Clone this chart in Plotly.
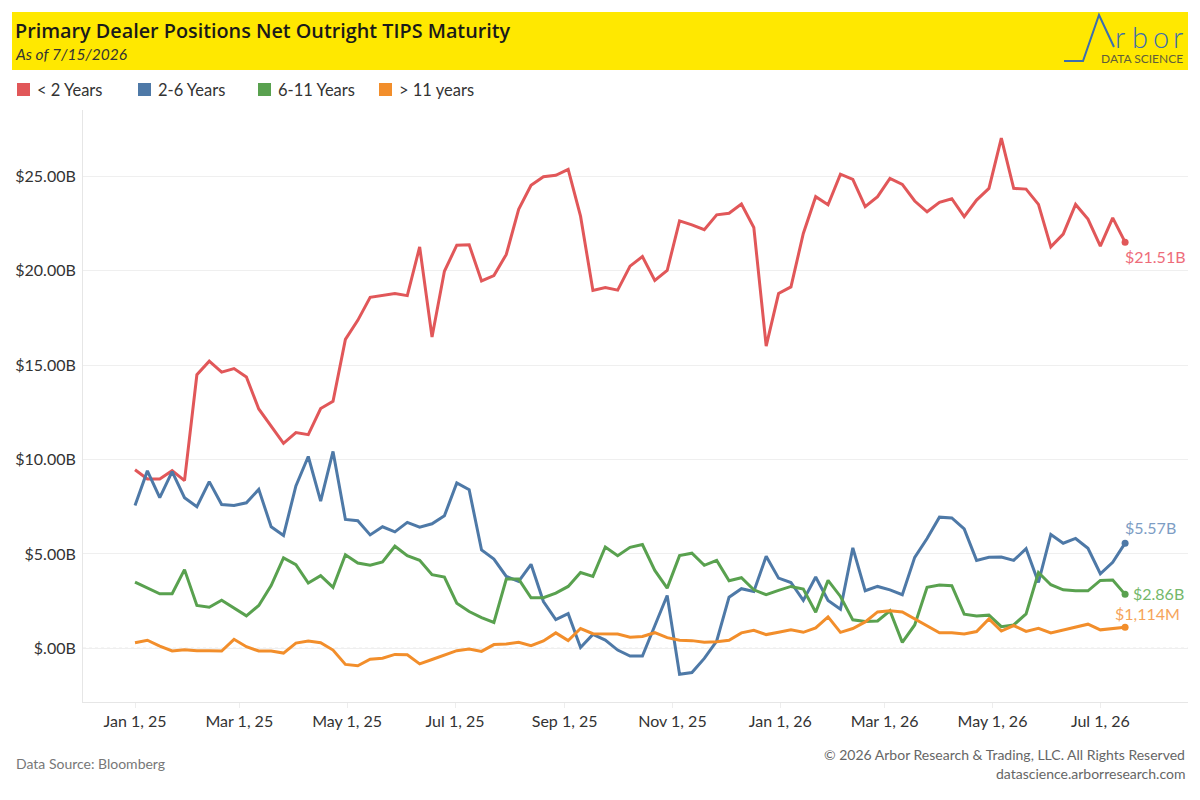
import pandas as pd
import plotly.graph_objects as go

# ---------------- data ----------------
start_date = "2025-01-01"
n_weeks = 81
dates = pd.date_range(start_date, periods=n_weeks, freq="7D")

series_names = ["< 2 Years", "2-6 Years", "6-11 Years", "> 11 years"]

lt2 = [9.46, 8.97, 8.97, 9.41, 8.88, 14.49, 15.21, 14.63, 14.82, 14.37,
       12.68, 11.75, 10.86, 11.43, 11.32, 12.70, 13.09, 16.36, 17.37, 18.59,
       18.70, 18.79, 18.68, 21.26, 16.49, 19.97, 21.35, 21.37, 19.46, 19.74,
       20.86, 23.25, 24.52, 24.98, 25.05, 25.37, 22.89, 18.95, 19.11, 18.97,
       20.24, 20.75, 19.48, 20.01, 22.64, 22.43, 22.17, 22.96, 23.04, 23.53,
       22.29, 16.01, 18.79, 19.14, 21.97, 23.92, 23.49, 25.11, 24.84, 23.39,
       23.92, 24.89, 24.57, 23.69, 23.12, 23.62, 23.81, 22.86, 23.74, 24.36,
       27.02, 24.36, 24.32, 23.51, 21.26, 21.94, 23.51, 22.73, 21.30, 22.80,
       21.51]

y2_6 = [7.57, 9.40, 7.98, 9.36, 7.98, 7.50, 8.83, 7.62, 7.57, 7.71,
        8.42, 6.44, 5.98, 8.60, 10.16, 7.80, 10.43, 6.83, 6.76, 6.01,
        6.44, 6.17, 6.67, 6.42, 6.60, 7.02, 8.76, 8.40, 5.21, 4.73,
        3.81, 3.55, 4.45, 2.48, 1.52, 1.84, 0.05, 0.74, 0.44, -0.09,
        -0.41, -0.41, 1.20, 2.80, -1.37, -1.28, -0.53, 0.39, 2.71, 3.16,
        3.01, 4.88, 3.72, 3.49, 2.54, 3.78, 2.54, 2.07, 5.32, 3.05,
        3.28, 3.10, 2.84, 4.82, 5.82, 6.95, 6.91, 6.33, 4.66, 4.82,
        4.84, 4.66, 5.28, 3.49, 6.03, 5.57, 5.82, 5.30, 3.95, 4.56,
        5.57]

y6_11 = [3.51, 3.19, 2.89, 2.89, 4.17, 2.27, 2.18, 2.55, 2.13, 1.72,
         2.27, 3.33, 4.79, 4.43, 3.46, 3.85, 3.23, 4.96, 4.52, 4.40,
         4.58, 5.41, 4.91, 4.66, 3.90, 3.78, 2.39, 1.95, 1.63, 1.37,
         3.67, 3.67, 2.68, 2.68, 2.93, 3.28, 4.02, 3.81, 5.37, 4.91,
         5.35, 5.50, 4.13, 3.19, 4.91, 5.04, 4.40, 4.66, 3.58, 3.74,
         3.10, 2.84, 3.07, 3.28, 3.14, 1.91, 3.60, 2.75, 1.51, 1.42,
         1.45, 1.99, 0.32, 1.24, 3.23, 3.35, 3.32, 1.81, 1.72, 1.76,
         1.15, 1.24, 1.83, 4.02, 3.37, 3.10, 3.05, 3.05, 3.60, 3.62,
         2.86]

gt11 = [0.30, 0.43, 0.12, -0.14, -0.07, -0.12, -0.12, -0.14, 0.48, 0.09,
        -0.14, -0.14, -0.25, 0.28, 0.39, 0.30, -0.09, -0.85, -0.92, -0.57,
        -0.52, -0.32, -0.34, -0.82, -0.59, -0.35, -0.12, -0.04, -0.16, 0.20,
        0.23, 0.32, 0.14, 0.39, 0.82, 0.41, 1.05, 0.78, 0.76, 0.76,
        0.59, 0.63, 0.83, 0.57, 0.43, 0.41, 0.32, 0.35, 0.43, 0.82,
        0.96, 0.73, 0.85, 0.98, 0.85, 1.08, 1.67, 0.85, 1.05, 1.40,
        1.93, 1.99, 1.93, 1.56, 1.19, 0.83, 0.83, 0.76, 0.89, 1.56,
        0.92, 1.21, 0.90, 1.06, 0.82, 0.98, 1.12, 1.28, 0.98, 1.06,
        1.114]

y_tick_vals = [0, 5, 10, 15, 20, 25]
y_tick_text = ["$.00B", "$5.00B", "$10.00B", "$15.00B", "$20.00B", "$25.00B"]
x_tick_vals = ["2025-01-01", "2025-03-01", "2025-05-01", "2025-07-01", "2025-09-01",
               "2025-11-01", "2026-01-01", "2026-03-01", "2026-05-01", "2026-07-01"]
x_tick_text = ["Jan 1, 25", "Mar 1, 25", "May 1, 25", "Jul 1, 25", "Sep 1, 25",
               "Nov 1, 25", "Jan 1, 26", "Mar 1, 26", "May 1, 26", "Jul 1, 26"]

# ---------------- styling ----------------
colors = ["#E15759", "#4E79A7", "#59A14F", "#F28E2B"]
label_colors = ["#EE6C7A", "#7D9DC4", "#74B86A", "#F6A45A"]
FONT = "Lato"

# the page has an 8px body margin, so the figure is drawn 8px in from the corner
OFF = 8
W, H = 1200 - OFF, 800 - OFF
ML, MR, MT, MB = 83 - OFF, 12, 110 - OFF, 98
PW, PH = W - ML - MR, H - MT - MB


def px(X):
    """reference-screenshot x pixel -> paper coordinate"""
    return (X - OFF - ML) / PW


def py(Y):
    """reference-screenshot y pixel -> paper coordinate"""
    return (H - MB - (Y - OFF)) / PH


fig = go.Figure()
all_series = [lt2, y2_6, y6_11, gt11]
for name, vals, c in zip(series_names, all_series, colors):
    fig.add_trace(go.Scatter(x=dates, y=vals, mode="lines", name=name,
                             line=dict(color=c, width=3), showlegend=False,
                             hoverinfo="x+y"))
    fig.add_trace(go.Scatter(x=[dates[-1]], y=[vals[-1]], mode="markers",
                             marker=dict(color=c, size=7), showlegend=False,
                             hoverinfo="skip"))

# end labels
end_texts = [f"${lt2[-1]:.2f}B", f"${y2_6[-1]:.2f}B", f"${y6_11[-1]:.2f}B",
             f"${gt11[-1] * 1000:,.0f}M"]
offsets = [(-2, -14), (-2, 16), (6, 1), (-12, 14)]
for txt, vals, lc, (dx, dy) in zip(end_texts, all_series, label_colors, offsets):
    fig.add_annotation(x=dates[-1], y=vals[-1], text=txt, showarrow=False,
                       xanchor="left", yanchor="middle", xshift=dx, yshift=dy,
                       font=dict(family=FONT, size=16, color=lc))

shapes = []
# yellow banner
shapes.append(dict(type="rect", xref="paper", yref="paper",
                   x0=px(12), x1=px(1188), y0=py(70), y1=py(12),
                   fillcolor="#FFE800", line=dict(width=0), layer="below"))
# logo pulse line (forms the "A" of Arbor)
logo_pts = [(1064, 61), (1083, 61), (1099, 15), (1114, 47)]
path = "M " + " L ".join(f"{px(a):.5f},{py(b):.5f}" for a, b in logo_pts)
shapes.append(dict(type="path", xref="paper", yref="paper", path=path,
                   line=dict(color="#3C6EAE", width=2)))
# dotted zero line
shapes.append(dict(type="line", xref="paper", yref="y", x0=0, x1=1, y0=0, y1=0,
                   line=dict(color="#B5B5B5", width=1, dash="dot"), layer="below"))

# custom legend
legend_x = [17, 138, 258, 379]
for lx, name, c in zip(legend_x, series_names, colors):
    shapes.append(dict(type="rect", xref="paper", yref="paper",
                       x0=px(lx), x1=px(lx + 13), y0=py(96), y1=py(83),
                       fillcolor=c, line=dict(width=0)))
    fig.add_annotation(xref="paper", yref="paper", x=px(lx + 18), y=py(90),
                       text=name, showarrow=False, xanchor="left", yanchor="middle",
                       font=dict(family=FONT, size=16.5, color="#333333"))

# title & subtitle
fig.add_annotation(xref="paper", yref="paper", x=px(13), y=py(30),
                   text="Primary Dealer Positions Net Outright TIPS Maturity",
                   showarrow=False, xanchor="left", yanchor="middle",
                   font=dict(family="Open Sans", size=19.8, color="#1A1A1A", weight=600))
fig.add_annotation(xref="paper", yref="paper", x=px(13), y=py(54),
                   text="<i>As of 7/15/2026</i>", showarrow=False,
                   xanchor="left", yanchor="middle",
                   font=dict(family=FONT, size=15.5, color="#333333"))

# logo text: letters of "rbor" placed individually to match the wide logotype
logo_letters = ["r", "b", "o", "r"]
logo_letter_x = [1120, 1140, 1161, 1178]
for ch, lx in zip(logo_letters, logo_letter_x):
    fig.add_annotation(xref="paper", yref="paper", x=px(lx), y=py(36),
                       text=ch, showarrow=False, xanchor="center", yanchor="middle",
                       font=dict(family=FONT, size=29, color="#3C6EAE", weight=300))
fig.add_annotation(xref="paper", yref="paper", x=px(1185), y=py(59),
                   text="DATA SCIENCE", showarrow=False, xanchor="right",
                   yanchor="middle",
                   font=dict(family=FONT, size=12, color="#5F5E3A"))

# footer
fig.add_annotation(xref="paper", yref="paper", x=px(14), y=py(763),
                   text="Data Source: Bloomberg", showarrow=False,
                   xanchor="left", yanchor="middle",
                   font=dict(family=FONT, size=14, color="#777777"))
fig.add_annotation(xref="paper", yref="paper", x=px(1187), y=py(754),
                   text="© 2026 Arbor Research & Trading, LLC. All Rights Reserved",
                   showarrow=False, xanchor="right", yanchor="middle",
                   font=dict(family=FONT, size=14, color="#666666"))
fig.add_annotation(xref="paper", yref="paper", x=px(1187), y=py(773),
                   text="datascience.arborresearch.com",
                   showarrow=False, xanchor="right", yanchor="middle",
                   font=dict(family=FONT, size=14, color="#666666"))

fig.update_layout(
    width=W, height=H,
    margin=dict(l=ML, r=MR, t=MT, b=MB, autoexpand=False),
    paper_bgcolor="white", plot_bgcolor="white",
    shapes=shapes,
    font=dict(family=FONT, color="#333333"),
    hovermode="closest",
    xaxis=dict(range=["2024-12-02 14:00", "2026-08-19 14:00"],
               tickvals=x_tick_vals, ticktext=x_tick_text,
               tickfont=dict(family=FONT, size=16, color="#333333"),
               showgrid=False, zeroline=False, automargin=False,
               showline=True, linecolor="#E6E6E6", linewidth=1,
               ticks="outside", ticklen=5, tickcolor="#EDEDED"),
    yaxis=dict(range=[-2.84, 28.51],
               tickvals=y_tick_vals, ticktext=y_tick_text,
               tickfont=dict(family=FONT, size=16, color="#333333"),
               showgrid=True, gridcolor="#EFEFEF", gridwidth=1,
               zeroline=False, automargin=False,
               showline=True, linecolor="#E6E6E6", linewidth=1,
               ticks="", ticklabelstandoff=3),
)

fig.write_html("out.html")
